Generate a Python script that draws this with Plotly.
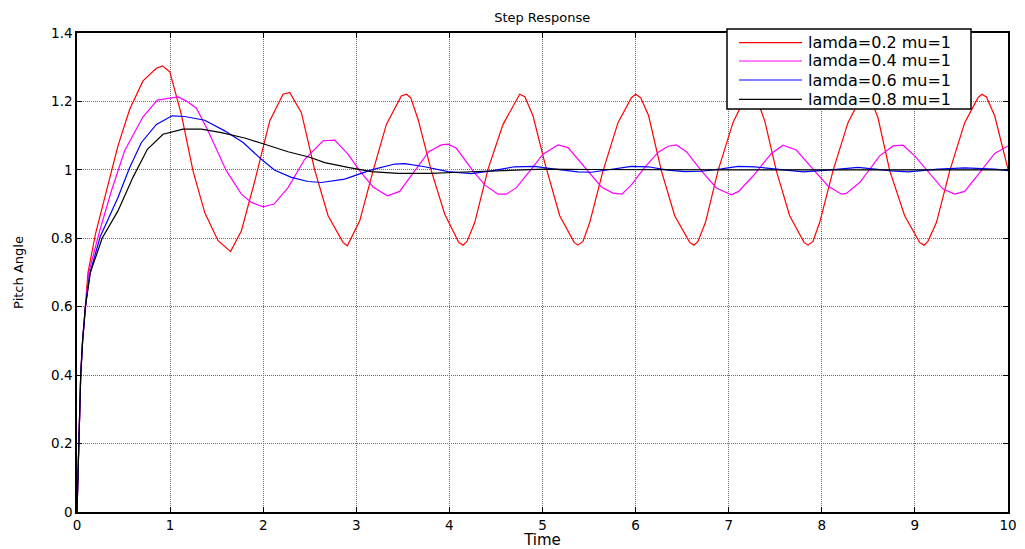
import plotly.graph_objects as go

# ---- step response samples (time in s, pitch angle) ----
t_l02 = [0, 0.01, 0.02, 0.04, 0.06, 0.09, 0.118, 0.198, 0.262, 0.351, 0.44, 0.566, 0.709, 0.853,
         0.917, 0.996, 1.12, 1.246, 1.372, 1.515, 1.65, 1.766, 1.91, 2.07, 2.213, 2.285, 2.41,
         2.553, 2.697, 2.857, 2.904, 3.037, 3.18, 3.323, 3.484, 3.538, 3.584, 3.663, 3.806,
         3.949, 4.10, 4.146, 4.189, 4.272, 4.415, 4.576, 4.755, 4.81, 4.898, 5.024, 5.185, 5.34,
         5.381, 5.435, 5.507, 5.65, 5.811, 5.955, 6.001, 6.055, 6.14, 6.277, 6.42, 6.581, 6.627,
         6.67, 6.75, 6.885, 7.046, 7.17, 7.24, 7.30, 7.387, 7.512, 7.655, 7.809, 7.852, 7.905,
         7.977, 8.12, 8.281, 8.42, 8.47, 8.52, 8.603, 8.73, 8.89, 9.05, 9.098, 9.14, 9.231,
         9.374, 9.535, 9.678, 9.72, 9.768, 9.857, 10.0]
y_l02 = [0, 0.12, 0.22, 0.40, 0.50, 0.60, 0.70, 0.812, 0.880, 0.973, 1.07, 1.177, 1.26, 1.297,
         1.304, 1.287, 1.163, 0.997, 0.875, 0.793, 0.761, 0.822, 0.968, 1.143, 1.221, 1.226, 1.167,
         1.0, 0.866, 0.788, 0.778, 0.851, 0.997, 1.133, 1.216, 1.221, 1.211, 1.148, 0.997,
         0.871, 0.788, 0.780, 0.791, 0.846, 1.002, 1.133, 1.221, 1.214, 1.158, 1.021, 0.866, 0.788,
         0.780, 0.791, 0.846, 0.997, 1.138, 1.211, 1.221, 1.211, 1.158, 0.997, 0.866, 0.788, 0.780,
         0.791, 0.846, 0.997, 1.138, 1.208, 1.221, 1.21, 1.143, 0.997, 0.866, 0.788, 0.780, 0.791,
         0.846, 0.997, 1.138, 1.211, 1.221, 1.21, 1.153, 0.997, 0.866, 0.788, 0.780, 0.791, 0.846,
         0.997, 1.138, 1.211, 1.221, 1.213, 1.158, 1.002]

t_l04 = [0, 0.01, 0.02, 0.04, 0.06, 0.09, 0.126, 0.244, 0.37, 0.512, 0.709, 0.863, 1.085, 1.175,
         1.283, 1.407, 1.605, 1.766, 1.873, 1.998, 2.117, 2.267, 2.374, 2.446, 2.643, 2.768,
         2.911, 3.037, 3.18, 3.334, 3.466, 3.627, 3.778, 3.914, 3.985, 4.075, 4.253, 4.379,
         4.522, 4.612, 4.72, 4.88, 5.005, 5.167, 5.274, 5.381, 5.489, 5.633, 5.757, 5.854, 5.955,
         6.098, 6.241, 6.348, 6.438, 6.546, 6.707, 6.868, 7.029, 7.107, 7.261, 7.387, 7.459,
         7.583, 7.727, 7.905, 8.067, 8.21, 8.264, 8.407, 8.622, 8.765, 8.872, 8.998, 9.14, 9.302,
         9.427, 9.535, 9.696, 9.857, 10.0]
y_l04 = [0, 0.12, 0.22, 0.40, 0.50, 0.60, 0.70, 0.822, 0.939, 1.056, 1.155, 1.204, 1.213, 1.201,
         1.18, 1.114, 0.997, 0.929, 0.905, 0.892, 0.900, 0.948, 0.997, 1.031, 1.085, 1.087,
         1.046, 0.997, 0.950, 0.924, 0.937, 0.997, 1.053, 1.073, 1.075, 1.063, 0.997, 0.956,
         0.929, 0.929, 0.948, 1.002, 1.046, 1.073, 1.065, 1.031, 0.997, 0.950, 0.932, 0.929, 0.956,
         1.007, 1.051, 1.069, 1.073, 1.053, 0.997, 0.947, 0.927, 0.937, 0.982, 1.026, 1.048,
         1.072, 1.058, 1.002, 0.953, 0.929, 0.931, 0.963, 1.041, 1.070, 1.072, 1.041, 0.997, 0.944,
         0.929, 0.937, 0.992, 1.048, 1.070]

t_l06 = [0, 0.01, 0.02, 0.04, 0.06, 0.09, 0.14, 0.25, 0.44, 0.566, 0.692, 0.853, 1.021, 1.157,
         1.372, 1.587, 1.784, 1.98, 2.124, 2.303, 2.481, 2.625, 2.875, 3.162, 3.412, 3.52, 3.735,
         3.985, 4.236, 4.451, 4.701, 4.916, 5.131, 5.381, 5.525, 5.775, 5.955, 6.134, 6.348,
         6.527, 6.707, 6.921, 7.1, 7.279, 7.494, 7.8, 8.1, 8.39, 8.75, 8.93, 9.25, 9.535, 9.857,
         10.0]
y_l06 = [0, 0.12, 0.22, 0.40, 0.50, 0.60, 0.70, 0.805, 0.919, 1.007, 1.08, 1.133, 1.158, 1.156,
         1.145, 1.114, 1.08, 1.031, 0.999, 0.978, 0.966, 0.963, 0.973, 1.0, 1.017, 1.018, 1.009,
         0.995, 0.989, 0.997, 1.009, 1.01, 1.002, 0.994, 0.993, 1.004, 1.010, 1.009, 0.999,
         0.995, 0.996, 1.003, 1.010, 1.009, 1.002, 0.994, 1.0, 1.007, 0.997, 0.994, 1.002, 1.006,
         1.002, 0.998]

t_l08 = [0, 0.01, 0.02, 0.04, 0.06, 0.09, 0.144, 0.27, 0.44, 0.601, 0.756, 0.924, 1.139, 1.336,
         1.551, 1.801, 2.016, 2.267, 2.5, 2.661, 2.911, 3.162, 3.448, 3.806, 4.093, 4.451, 4.773,
         5.024, 5.5, 6.0, 6.5, 7.0, 7.5, 8.0, 8.5, 9.0, 9.5, 10.0]
y_l08 = [0, 0.12, 0.22, 0.40, 0.50, 0.60, 0.70, 0.80, 0.880, 0.978, 1.06, 1.104, 1.119, 1.119,
         1.109, 1.093, 1.075, 1.053, 1.037, 1.021, 1.007, 0.995, 0.990, 0.990, 0.993, 0.997, 1.001,
         1.002, 1.001, 1.0, 0.999, 1.0, 1.0, 1.0, 1.0, 1.0, 1.0, 1.0]

series_names = ["lamda=0.2 mu=1", "lamda=0.4 mu=1", "lamda=0.6 mu=1", "lamda=0.8 mu=1"]
series_t = [t_l02, t_l04, t_l06, t_l08]
series_y = [y_l02, y_l04, y_l06, y_l08]
series_colors = ["#ff0000", "#ff00ff", "#0000ff", "#000000"]

x_ticks = list(range(0, 11))
y_ticks = [0, 0.2, 0.4, 0.6, 0.8, 1, 1.2, 1.4]
y_tick_text = ["0", "0.2", "0.4", "0.6", "0.8", "1", "1.2", "1.4"]

FONT = "DejaVu Sans"
W, H = 1025, 549
ML, MR, MT, MB = 77, 17, 33, 37
PW, PH = W - ML - MR, H - MT - MB


def px_x(p):
    """pixel column -> paper x"""
    return (p - ML) / PW


def px_y(p):
    """pixel row -> paper y"""
    return (H - MB - p) / PH


fig = go.Figure()
for name, tt, yy, col in zip(series_names, series_t, series_y, series_colors):
    fig.add_trace(go.Scatter(x=tt, y=yy, mode="lines", name=name, showlegend=False,
                             line=dict(color=col, width=1.2)))

axis_common = dict(
    showline=True, linecolor="black", linewidth=1.5, mirror="ticks",
    ticks="inside", ticklen=5, tickcolor="black", tickwidth=1,
    showgrid=True, gridcolor="#6e6e6e", gridwidth=1, griddash="1px,1px",
    zeroline=False, automargin=False,
    tickfont=dict(family=FONT, size=13.5, color="black"),
)

fig.update_xaxes(range=[0, 10], tickvals=x_ticks, ticktext=[str(v) for v in x_ticks],
                 title=dict(text="Time", font=dict(family=FONT, size=15, color="black"),
                            standoff=14),
                 **axis_common)
fig.update_yaxes(range=[0, 1.4], tickvals=y_ticks, ticktext=y_tick_text,
                 title=dict(text="Pitch Angle", font=dict(family=FONT, size=13, color="black"),
                            standoff=25),
                 **axis_common)

# boxed legend in the upper right corner
shapes = [dict(type="rect", xref="paper", yref="paper",
               x0=px_x(727), x1=px_x(971), y0=px_y(109), y1=px_y(29),
               fillcolor="white", line=dict(color="black", width=1.5), layer="above")]
annotations = []
row_y = [42.7, 61.0, 80.0, 99.3]
for name, col, ry in zip(series_names, series_colors, row_y):
    shapes.append(dict(type="line", xref="paper", yref="paper",
                       x0=px_x(739), x1=px_x(802), y0=px_y(ry), y1=px_y(ry),
                       line=dict(color=col, width=1.2), layer="above"))
    annotations.append(dict(xref="paper", yref="paper", x=px_x(806), y=px_y(ry),
                            xanchor="left", yanchor="middle", showarrow=False,
                            text=name, font=dict(family=FONT, size=16, color="black")))

fig.update_layout(
    width=W, height=H,
    margin=dict(l=ML, r=MR, t=MT, b=MB, autoexpand=False),
    paper_bgcolor="white", plot_bgcolor="white",
    title=dict(text="Step Response", font=dict(family=FONT, size=13, color="black"),
               x=0.529, xanchor="center", y=1 - 17 / H, yanchor="middle"),
    showlegend=False,
    shapes=shapes,
    annotations=annotations,
)

fig.write_html("out.html")
